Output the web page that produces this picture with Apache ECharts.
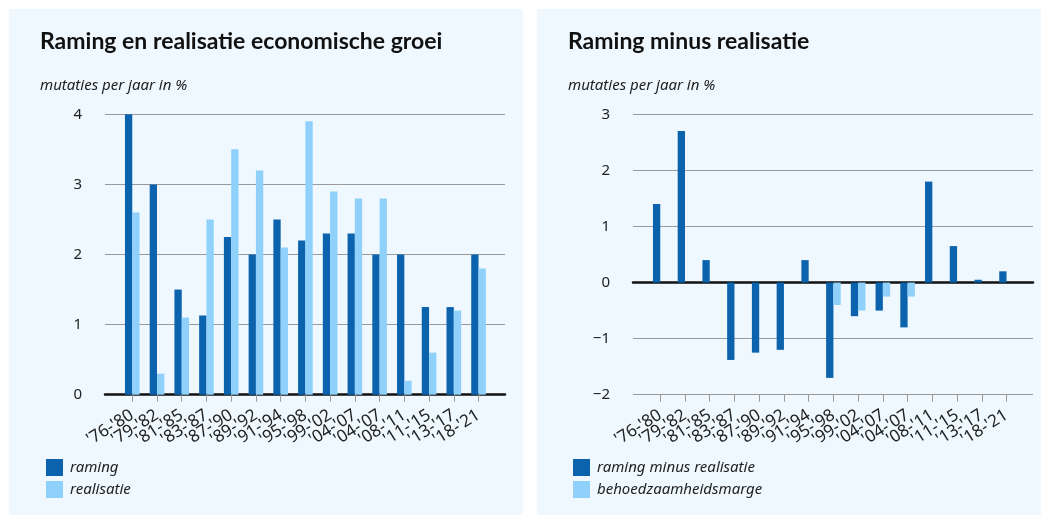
<!DOCTYPE html>
<html>
<head>
<meta charset="utf-8">
<script src="https://cdn.jsdelivr.net/npm/echarts@6/dist/echarts.min.js"></script>
<style>
html,body{margin:0;padding:0;background:#ffffff;}
#c{width:1041px;height:515px;}
</style>
</head>
<body>
<div id="c"></div>
<script>
var categories = ["'76-'80","'79-'82","'81-'85","'83-'87","'87-'90","'89-'92","'91-'94","'95-'98","'99-'02","'04-'07","'04-'07","'08-'11","'11-'15","'13-'17","'18-'21"];
var raming = [4, 3, 1.5, 1.13, 2.25, 2.0, 2.5, 2.2, 2.3, 2.3, 2.0, 2.0, 1.25, 1.25, 2.0];
var realisatie = [2.6, 0.3, 1.1, 2.5, 3.5, 3.2, 2.1, 3.9, 2.9, 2.8, 2.8, 0.2, 0.6, 1.2, 1.8];
var verschil = [1.4, 2.7, 0.4, -1.38, -1.25, -1.2, 0.4, -1.7, -0.6, -0.5, -0.8, 1.8, 0.65, 0.05, 0.2];
var marge = [null, null, null, null, null, null, null, -0.4, -0.5, -0.25, -0.25, null, null, null, null];
var leftTicks = [0, 1, 2, 3, 4];
var rightTicks = [-2, -1, 0, 1, 2, 3];

var DARK = '#0b62ad', LIGHT = '#8fd1fb', BG = '#eef8fe';
var FONT = 'Lato';
var IFONT = 'Noto Sans';
function fmt(v){ return String(v).replace('-', '\u2212'); }

var chart = echarts.init(document.getElementById('c'), null, {renderer:'canvas'});

function frameY(idx, min, max){
  return {gridIndex: idx, type:'value', min:min, max:max, interval:1,
    axisLine:{show:false}, axisTick:{show:false},
    axisLabel:{show:true, margin:23, fontFamily:IFONT, fontSize:15, color:'#222', formatter:fmt},
    splitLine:{show:true, lineStyle:{color:'#9a9a9a', width:1}}};
}
function barY(idx, min, max){
  return {gridIndex: idx, type:'value', min:min, max:max, interval:1,
    axisLine:{show:false}, axisTick:{show:false}, axisLabel:{show:false}, splitLine:{show:false}};
}
function frameX(idx, lineColor, lineWidth){
  return {gridIndex: idx, type:'category', data:categories, boundaryGap:true,
    axisLine:{show:true, onZero:true, lineStyle:{color:lineColor, width:lineWidth}},
    axisTick:{show:false}, axisLabel:{show:false}, splitLine:{show:false}};
}
function barX(idx){
  return {gridIndex: idx, type:'category', data:categories, boundaryGap:true,
    position:'bottom',
    axisLine:{show:false, onZero:false},
    axisTick:{show:true, alignWithLabel:true, length:7, lineStyle:{color:'#9a9a9a'}},
    axisLabel:{show:true, rotate:32, interval:0, margin:19, fontFamily:IFONT, fontSize:17, color:'#222'},
    splitLine:{show:false}};
}
var titleStyle = {fontFamily:FONT, fontSize:23, fontWeight:'bold', color:'#111'};
var subStyle = {fontFamily:IFONT, fontSize:15, fontStyle:'italic', fontWeight:'normal', color:'#222'};
var legStyle = {fontFamily:IFONT, fontSize:15, fontStyle:'italic', color:'#222', padding:[0,0,0,2]};

var option = {
  animation:false,
  graphic:[
    {type:'rect', shape:{x:9, y:9, width:514, height:506}, style:{fill:BG}, z:-10},
    {type:'rect', shape:{x:537, y:9, width:504, height:506}, style:{fill:BG}, z:-10}
  ],
  title:[
    {text:'Raming en realisatie economische groei', left:40, top:30, padding:0, textStyle:titleStyle},
    {text:'mutaties per jaar in %', left:40, top:78, padding:0, textStyle:subStyle},
    {text:'Raming minus realisatie', left:568, top:30, padding:0, textStyle:titleStyle},
    {text:'mutaties per jaar in %', left:568, top:78, padding:0, textStyle:subStyle}
  ],
  legend:[
    {data:['raming','realisatie'], orient:'vertical', left:46, top:459, padding:0, itemWidth:17, itemHeight:17, itemGap:5, icon:'rect',
     textStyle:legStyle},
    {data:['raming minus realisatie','behoedzaamheidsmarge'], orient:'vertical', left:573, top:459, padding:0, itemWidth:17, itemHeight:17, itemGap:5, icon:'rect',
     textStyle:legStyle}
  ],
  grid:[
    {left:105, right:536, top:114.3, bottom:120.3},
    {left:119.9, right:550.1, top:114.3, bottom:120.3},
    {left:633, right:8, top:114.3, bottom:120.3},
    {left:647.9, right:22.1, top:114.3, bottom:120.3}
  ],
  xAxis:[
    frameX(0, '#111', 2.5),
    barX(1),
    frameX(2, '#111', 2.5),
    barX(3)
  ],
  yAxis:[
    frameY(0, 0, 4),
    barY(1, 0, 4),
    frameY(2, -2, 3),
    barY(3, -2, 3)
  ],
  series:[
    {name:'raming', type:'bar', xAxisIndex:1, yAxisIndex:1, data:raming, barWidth:7.3, barGap:'0%', itemStyle:{color:DARK}, z:3},
    {name:'realisatie', type:'bar', xAxisIndex:1, yAxisIndex:1, data:realisatie, barWidth:7.3, barGap:'0%', itemStyle:{color:LIGHT}, z:3},
    {name:'raming minus realisatie', type:'bar', xAxisIndex:3, yAxisIndex:3, data:verschil, barWidth:7.3, barGap:'0%', itemStyle:{color:DARK}, z:3},
    {name:'behoedzaamheidsmarge', type:'bar', xAxisIndex:3, yAxisIndex:3, data:marge, barWidth:7.3, barGap:'0%', itemStyle:{color:LIGHT}, z:3}
  ]
};
chart.setOption(option);
</script>
</body>
</html>
